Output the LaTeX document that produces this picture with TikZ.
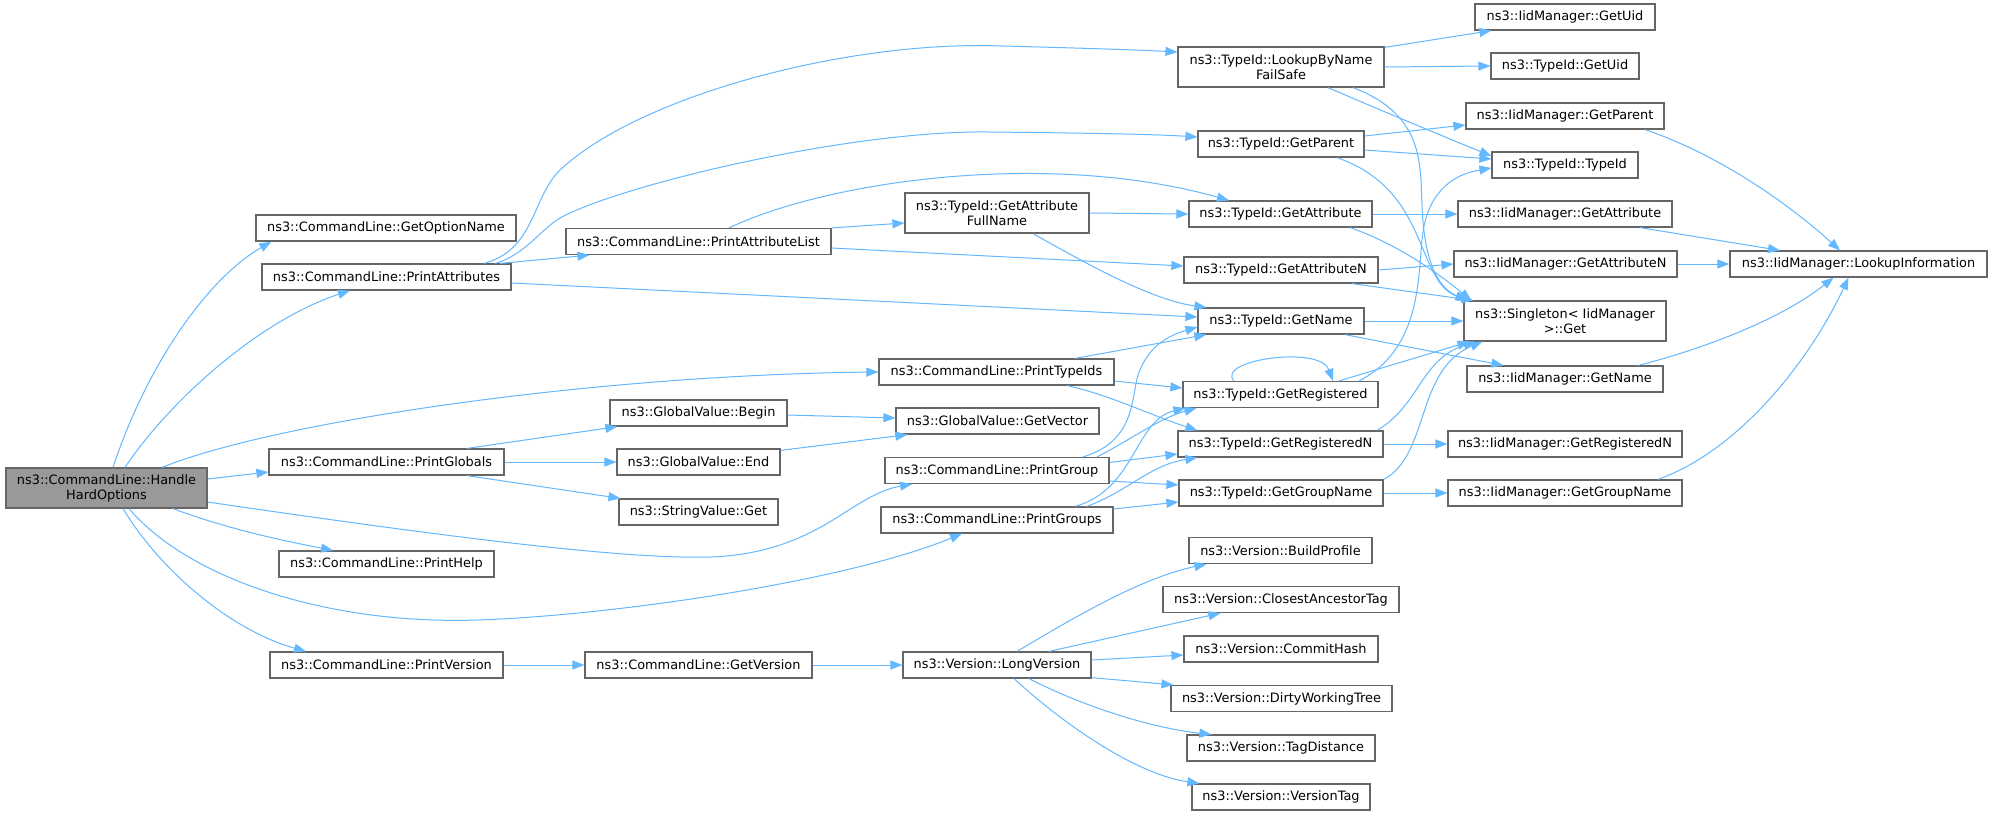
\documentclass[tikz,border=0pt]{standalone}
\usepackage{fontspec}
\setmainfont{DejaVu Sans}
\usetikzlibrary{arrows.meta}
\definecolor{boxgray}{HTML}{666666}
\definecolor{startfill}{HTML}{999999}
\definecolor{edgeblue}{HTML}{63B8FF}
\begin{document}
\begin{tikzpicture}[x=1pt,y=-1pt,
  fn/.style={draw=boxgray, line width=1.2pt, fill=white, inner sep=0pt,
    minimum height=26pt, align=center, font=\fontsize{12.9}{15}\selectfont},
  fn2/.style={fn, minimum height=40pt},
  call/.style={draw=edgeblue, line width=1pt, -{Triangle[length=12pt,width=9pt]}}]
\path[fill=white,use as bounding box] (0,0) rectangle (1992,815);
% nodes
\node[fn2, fill=startfill, minimum width=201pt] (H) at (106.5,488) {ns3::CommandLine::Handle\\HardOptions};
\node[fn, minimum width=260pt] (GON) at (386,228) {ns3::CommandLine::GetOptionName};
\node[fn, minimum width=249pt] (PA) at (386.5,277) {ns3::CommandLine::PrintAttributes};
\node[fn, minimum width=235pt] (PGl) at (386.5,462) {ns3::CommandLine::PrintGlobals};
\node[fn, minimum width=215pt] (PH) at (386.5,564) {ns3::CommandLine::PrintHelp};
\node[fn, minimum width=233pt] (PV) at (386.5,665) {ns3::CommandLine::PrintVersion};
\node[fn, minimum width=265pt] (PAL) at (698.5,241.5) {ns3::CommandLine::PrintAttributeList};
\node[fn, minimum width=177pt] (GVB) at (698.5,413) {ns3::GlobalValue::Begin};
\node[fn, minimum width=163pt] (GVE) at (698.5,462) {ns3::GlobalValue::End};
\node[fn, minimum width=159pt] (SVG) at (698.5,512) {ns3::StringValue::Get};
\node[fn, minimum width=227pt] (GV) at (698.5,665) {ns3::CommandLine::GetVersion};
\node[fn, minimum width=235pt] (PTI) at (996.5,372) {ns3::CommandLine::PrintTypeIds};
\node[fn, minimum width=203pt] (GVec) at (997.5,421) {ns3::GlobalValue::GetVector};
\node[fn, minimum width=224pt] (PG) at (997,470.5) {ns3::CommandLine::PrintGroup};
\node[fn, minimum width=232pt] (PGs) at (997,520) {ns3::CommandLine::PrintGroups};
\node[fn2, minimum width=184pt] (GAFN) at (997,213) {ns3::TypeId::GetAttribute\\FullName};
\node[fn, minimum width=188pt] (LV) at (997,665) {ns3::Version::LongVersion};
\node[fn2, minimum width=206pt] (LBN) at (1281,67) {ns3::TypeId::LookupByName\\FailSafe};
\node[fn, minimum width=166pt] (GP) at (1281,144) {ns3::TypeId::GetParent};
\node[fn, minimum width=183pt] (GA) at (1280.5,214) {ns3::TypeId::GetAttribute};
\node[fn, minimum width=194pt] (GAN) at (1281,270) {ns3::TypeId::GetAttributeN};
\node[fn, minimum width=166pt] (GN) at (1281,321) {ns3::TypeId::GetName};
\node[fn, minimum width=195pt] (GR) at (1280.5,394.5) {ns3::TypeId::GetRegistered};
\node[fn, minimum width=205pt] (GRN) at (1280.5,444) {ns3::TypeId::GetRegisteredN};
\node[fn, minimum width=204pt] (GGN) at (1281,493) {ns3::TypeId::GetGroupName};
\node[fn, minimum width=183pt] (BP) at (1280.5,550.5) {ns3::Version::BuildProfile};
\node[fn, minimum width=236pt] (CAT) at (1281,599.5) {ns3::Version::ClosestAncestorTag};
\node[fn, minimum width=194pt] (CH) at (1281,649) {ns3::Version::CommitHash};
\node[fn, minimum width=221pt] (DWT) at (1281.5,698.5) {ns3::Version::DirtyWorkingTree};
\node[fn, minimum width=188pt] (TD) at (1281,748) {ns3::Version::TagDistance};
\node[fn, minimum width=178pt] (VT) at (1281,797) {ns3::Version::VersionTag};
\node[fn, minimum width=180pt] (IGU) at (1565,17) {ns3::IidManager::GetUid};
\node[fn, minimum width=148pt] (TGU) at (1565,66) {ns3::TypeId::GetUid};
\node[fn, minimum width=198pt] (IGP) at (1565,116) {ns3::IidManager::GetParent};
\node[fn, minimum width=146pt] (TT) at (1565,165) {ns3::TypeId::TypeId};
\node[fn, minimum width=214pt] (IGA) at (1565,214) {ns3::IidManager::GetAttribute};
\node[fn, minimum width=223pt] (IGAN) at (1565.5,264) {ns3::IidManager::GetAttributeN};
\node[fn2, minimum width=202pt] (S) at (1565,321) {ns3::Singleton< IidManager\\>::Get};
\node[fn, minimum width=196pt] (IGN) at (1565,379) {ns3::IidManager::GetName};
\node[fn, minimum width=234pt] (IGRN) at (1565,444) {ns3::IidManager::GetRegisteredN};
\node[fn, minimum width=234pt] (IGGN) at (1565,493) {ns3::IidManager::GetGroupName};
\node[fn, minimum width=257pt] (LI) at (1858.5,264) {ns3::IidManager::LookupInformation};
% edges from HandleHardOptions
\draw[call] ([xshift=6.5pt]H.north) .. controls (145,370) and (205,280) .. ([xshift=16pt]GON.south west);
\draw[call] ([xshift=18.5pt]H.north) .. controls (170,400) and (260,320) .. ([xshift=-36.5pt]PA.south);
\draw[call] ([xshift=55.5pt]H.north) .. controls (280,420) and (600,375) .. (PTI.west);
\draw[call] ([yshift=9pt]H.east) -- ([yshift=-10pt]PGl.west);
\draw[call] ([yshift=-14pt]H.east) .. controls (420,533) and (620,560) .. (712,557) .. controls (820,552) and (850,495) .. ([xshift=-85pt]PG.south);
\draw[call] ([xshift=66.5pt]H.south) .. controls (230,530) and (290,542) .. ([xshift=-53.5pt]PH.north);
\draw[call] ([xshift=22.5pt]H.south) .. controls (190,580) and (330,625) .. (478,620) .. controls (620,615) and (850,580) .. ([xshift=-35pt]PGs.south);
\draw[call] ([xshift=16.5pt]H.south) .. controls (160,570) and (230,630) .. ([xshift=-80.5pt]PV.north);
% PrintAttributes
\draw[call] ([xshift=97.5pt]PA.north) .. controls (535,250) and (532,197) .. (560,170) .. controls (640,95) and (850,40) .. (1002,46) .. controls (1080,48) and (1140,50) .. ([yshift=15pt]LBN.west);
\draw[call] ([xshift=108.5pt]PA.north) .. controls (525,255) and (540,230) .. (560,218) .. controls (620,185) and (850,130) .. (990,132) .. controls (1080,133) and (1150,134) .. ([yshift=7pt]GP.west);
\draw[call] ([xshift=113.5pt]PA.north) -- ([xshift=24pt]PAL.south west);
\draw[call] ([yshift=-6pt]PA.east) -- ([yshift=4pt]GN.west);
% PrintAttributeList
\draw[call] (PAL.north east) -- ([yshift=-10pt]GAFN.west);
\draw[call] ([xshift=30.5pt]PAL.north) .. controls (830,180) and (1050,150) .. ([xshift=-51.5pt]GA.north);
\draw[call] ([yshift=-6.5pt]PAL.east) -- ([yshift=4pt]GAN.west);
% GetAttributeFullName
\draw[call] (GAFN.east) -- (GA.west);
\draw[call] ([xshift=36pt]GAFN.south) .. controls (1080,260) and (1150,300) .. ([xshift=9pt]GN.north west);
% LookupByNameFailSafe
\draw[call] ([yshift=-1pt]LBN.north east) -- ([xshift=17pt]IGU.south west);
\draw[call] (LBN.east) -- (TGU.west);
\draw[call] ([xshift=47pt]LBN.south) .. controls (1380,110) and (1440,135) .. ([yshift=9pt]TT.west);
\draw[call] ([xshift=72pt]LBN.south) .. controls (1425,115) and (1420,165) .. (1422,205) .. controls (1424,265) and (1440,290) .. ([xshift=6pt]S.north west);
% GetParent
\draw[call] ([yshift=8pt]GP.east) -- ([yshift=-9pt]IGP.west);
\draw[call] ([yshift=-6pt]GP.east) -- ([yshift=6pt]TT.west);
\draw[call] ([xshift=56pt]GP.south) .. controls (1430,190) and (1415,280) .. ([xshift=4pt]S.north west);
% GetAttribute
\draw[call] (GA.east) -- (IGA.west);
\draw[call] ([xshift=69.5pt]GA.south) .. controls (1400,245) and (1440,275) .. ([xshift=8pt]S.north west);
% GetAttributeN
\draw[call] (GAN.east) -- (IGAN.west);
\draw[call] ([xshift=71pt]GAN.south) -- ([xshift=10pt]S.north west);
% GetName
\draw[call] (GN.east) -- (S.west);
\draw[call] ([xshift=64pt]GN.south) -- ([xshift=37pt]IGN.north west);
% GetRegistered
\draw[call] ([xshift=-46.5pt]GR.north) .. controls (1215,360) and (1320,345) .. ([xshift=52.5pt]GR.north);
\draw[call] ([xshift=78.5pt]GR.north) .. controls (1420,350) and (1418,280) .. (1422,240) .. controls (1426,195) and (1450,175) .. ([yshift=-3pt]TT.west);
\draw[call] ([xshift=58.5pt]GR.north) -- ([xshift=6pt]S.south west);
% GetRegisteredN
\draw[call] (GRN.east) -- (IGRN.west);
\draw[call] ([xshift=96.5pt]GRN.north) .. controls (1420,405) and (1420,360) .. ([xshift=12pt]S.south west);
% GetGroupName
\draw[call] (GGN.east) -- (IGGN.west);
\draw[call] (GGN.north east) .. controls (1430,455) and (1415,370) .. ([xshift=19pt]S.south west);
% IidManager -> LookupInformation
\draw[call] ([xshift=80pt]IGP.south) .. controls (1720,155) and (1790,205) .. ([xshift=-18.5pt]LI.north);
\draw[call] ([xshift=75pt]IGA.south) -- ([xshift=-78.5pt]LI.north);
\draw[call] (IGAN.east) -- (LI.west);
\draw[call] ([xshift=73pt]IGN.north) .. controls (1700,350) and (1780,320) .. ([xshift=-25pt]LI.south);
\draw[call] ([xshift=93pt]IGGN.north) .. controls (1740,450) and (1810,360) .. ([xshift=-10pt]LI.south);
% PrintTypeIds
\draw[call] ([xshift=78.5pt]PTI.north) -- ([xshift=9pt]GN.south west);
\draw[call] ([yshift=-9pt]PTI.east) -- ([yshift=6.5pt]GR.west);
\draw[call] ([xshift=70.5pt]PTI.south) .. controls (1110,395) and (1150,415) .. ([xshift=20pt]GRN.north west);
% PrintGroup
\draw[call] ([xshift=86pt]PG.north) .. controls (1140,440) and (1130,390) .. (1140,370) .. controls (1150,345) and (1170,335) .. ([yshift=-6pt]GN.west);
\draw[call] ([xshift=100pt]PG.north) .. controls (1130,440) and (1160,418) .. ([xshift=14pt]GR.south west);
\draw[call] ([yshift=8pt]PG.east) -- ([yshift=-10pt]GRN.west);
\draw[call] ([yshift=-10.5pt]PG.east) -- ([yshift=8pt]GGN.west);
% PrintGroups
\draw[call] ([xshift=78pt]PGs.north) .. controls (1135,490) and (1135,420) .. ([xshift=3pt]GR.south west);
\draw[call] ([xshift=90pt]PGs.north) .. controls (1130,490) and (1150,465) .. ([xshift=20pt]GRN.south west);
\draw[call] ([yshift=11pt]PGs.east) -- ([yshift=-9pt]GGN.west);
% PrintGlobals
\draw[call] ([xshift=80.5pt]PGl.north) -- ([xshift=8pt]GVB.south west);
\draw[call] (PGl.east) -- (GVE.west);
\draw[call] ([xshift=80.5pt]PGl.south) -- ([xshift=2pt]SVG.north west);
\draw[call] ([yshift=-2pt]GVB.east) -- ([yshift=3pt]GVec.west);
\draw[call] ([yshift=-2pt]GVE.north east) -- ([xshift=12pt]GVec.south west);
% version chain
\draw[call] (PV.east) -- (GV.west);
\draw[call] (GV.east) -- (LV.west);
\draw[call] ([xshift=20pt]LV.north) .. controls (1070,620) and (1140,578) .. ([xshift=18pt]BP.south west);
\draw[call] ([xshift=52pt]LV.north) -- ([xshift=58pt]CAT.south west);
\draw[call] ([yshift=5pt]LV.east) -- ([yshift=-6pt]CH.west);
\draw[call] ([yshift=1pt]LV.south east) -- ([xshift=3pt]DWT.north west);
\draw[call] ([xshift=32pt]LV.south) .. controls (1080,705) and (1150,728) .. ([xshift=25pt]TD.north west);
\draw[call] ([xshift=17pt]LV.south) .. controls (1070,730) and (1140,775) .. ([xshift=8pt]VT.north west);
\end{tikzpicture}
\end{document}
